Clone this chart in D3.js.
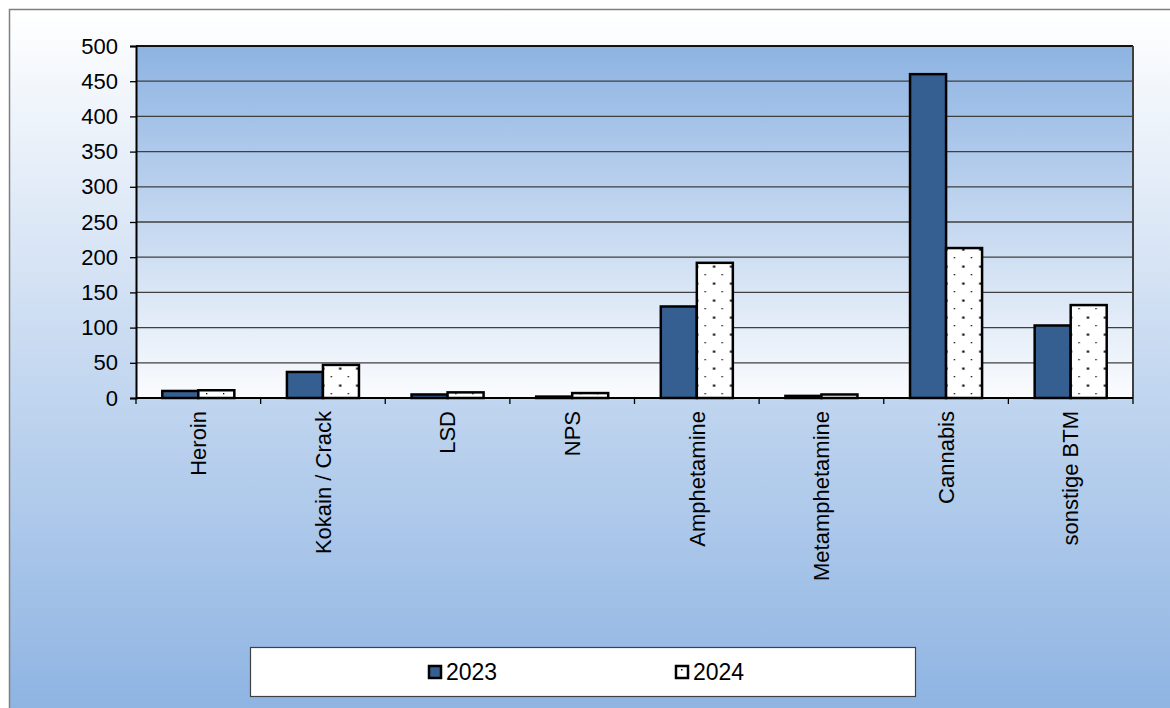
<!DOCTYPE html>
<html>
<head>
<meta charset="utf-8">
<script src="https://cdn.jsdelivr.net/npm/d3@7"></script>
<style>
  body { margin: 0; background: #fff; }
  svg { display: block; font-family: 'Liberation Sans', Arial, sans-serif; }
</style>
</head>
<body>
<div id="chart"></div>
<script>
// Data
const categories = ['Heroin', 'Kokain / Crack', 'LSD', 'NPS', 'Amphetamine', 'Metamphetamine', 'Cannabis', 'sonstige BTM']
const series = ['2023', '2024']
const values2023 = [10, 37, 5, 2, 130, 3, 460, 103]
const values2024 = [11, 47, 8, 7, 192, 5, 213, 132]
const yTicks = [0, 50, 100, 150, 200, 250, 300, 350, 400, 450, 500]

const width = 1170
const height = 708
const plot = { left: 136, right: 1133, top: 46, bottom: 398 }

const rows = categories.map((c, i) => ({ category: c, values: [values2023[i], values2024[i]] }))

const svg = d3.select('#chart')
  .append('svg')
  .attr('width', width)
  .attr('height', height)

const defs = svg.append('defs')

// Background gradient of the whole chart (white on top, blue at bottom)
const outerGrad = defs.append('linearGradient')
  .attr('id', 'outer-grad')
  .attr('x1', 0).attr('y1', 0).attr('x2', 0).attr('y2', 1)
outerGrad.append('stop').attr('offset', '0%').attr('stop-color', '#ffffff')
outerGrad.append('stop').attr('offset', '100%').attr('stop-color', '#8db3e2')

// Plot area gradient (blue on top, white at bottom)
const plotGrad = defs.append('linearGradient')
  .attr('id', 'plot-grad')
  .attr('x1', 0).attr('y1', 0).attr('x2', 0).attr('y2', 1)
plotGrad.append('stop').attr('offset', '0%').attr('stop-color', '#8db3e2')
plotGrad.append('stop').attr('offset', '100%').attr('stop-color', '#fbfcfe')

// Dotted fill for the 2024 bars
const dots = defs.append('pattern')
  .attr('id', 'dots')
  .attr('patternUnits', 'userSpaceOnUse')
  .attr('width', 17)
  .attr('height', 17)
dots.append('rect').attr('width', 17).attr('height', 17).attr('fill', '#fff')
dots.append('rect').attr('x', 2).attr('y', 2).attr('width', 1.3).attr('height', 1.3).attr('fill', '#000')
dots.append('rect').attr('x', 10.5).attr('y', 10.5).attr('width', 2.2).attr('height', 2.2).attr('fill', '#000')

const fills = ['#365f91', 'url(#dots)']

// Outer chart frame
svg.append('rect')
  .attr('x', 9.5)
  .attr('y', 9.5)
  .attr('width', width)
  .attr('height', height)
  .attr('fill', 'url(#outer-grad)')
  .attr('stroke', '#7f7f7f')
  .attr('stroke-width', 1.5)

// Scales
const x0 = d3.scaleBand()
  .domain(categories)
  .range([plot.left, plot.right])
  .padding(0)

const x1 = d3.scaleBand()
  .domain(series)
  .range([0, x0.bandwidth()])
  .paddingInner(0)
  .paddingOuter(0.73)

const y = d3.scaleLinear()
  .domain([0, 500])
  .range([plot.bottom, plot.top])

// Plot background
svg.append('rect')
  .attr('x', plot.left)
  .attr('y', plot.top)
  .attr('width', plot.right - plot.left)
  .attr('height', plot.bottom - plot.top)
  .attr('fill', 'url(#plot-grad)')

// Horizontal grid lines
svg.append('g')
  .selectAll('line')
  .data(yTicks.filter(d => d > 0 && d < 500))
  .join('line')
  .attr('x1', plot.left)
  .attr('x2', plot.right)
  .attr('y1', d => y(d))
  .attr('y2', d => y(d))
  .attr('stroke', '#3f3f3f')
  .attr('stroke-width', 1.3)

// Plot border: top black, right dark gray
svg.append('line')
  .attr('x1', plot.left).attr('x2', plot.right)
  .attr('y1', y(500)).attr('y2', y(500))
  .attr('stroke', '#111').attr('stroke-width', 2)
svg.append('line')
  .attr('x1', plot.right).attr('x2', plot.right)
  .attr('y1', plot.top).attr('y2', plot.bottom)
  .attr('stroke', '#404040').attr('stroke-width', 2)

// Bars
svg.append('g')
  .selectAll('g')
  .data(rows)
  .join('g')
  .attr('transform', d => `translate(${x0(d.category)},0)`)
  .selectAll('rect')
  .data(d => d.values.map((v, i) => ({ key: series[i], value: v, i })))
  .join('rect')
  .attr('x', d => x1(d.key))
  .attr('y', d => y(d.value))
  .attr('width', x1.bandwidth())
  .attr('height', d => y(0) - y(d.value))
  .attr('fill', d => fills[d.i])
  .attr('stroke', '#000')
  .attr('stroke-width', 2.5)

// Y axis
const yAxis = d3.axisLeft(y)
  .tickValues(yTicks)
  .tickSize(6)
  .tickPadding(12)

svg.append('g')
  .attr('transform', `translate(${plot.left},0)`)
  .call(yAxis)
  .call(g => g.select('.domain').attr('stroke', '#000').attr('stroke-width', 2))
  .call(g => g.selectAll('.tick line').attr('stroke', '#000').attr('stroke-width', 1.3))
  .call(g => g.selectAll('.tick text')
    .attr('font-size', '22px')
    .attr('font-family', "'Liberation Sans', Arial, sans-serif")
    .attr('fill', '#000'))

// X axis line and category boundary ticks
svg.append('line')
  .attr('x1', plot.left).attr('x2', plot.right)
  .attr('y1', plot.bottom).attr('y2', plot.bottom)
  .attr('stroke', '#000').attr('stroke-width', 2)

svg.append('g')
  .selectAll('line')
  .data(categories.map(c => x0(c)).concat([plot.right]))
  .join('line')
  .attr('x1', d => d).attr('x2', d => d)
  .attr('y1', plot.bottom).attr('y2', plot.bottom + 6)
  .attr('stroke', '#000')
  .attr('stroke-width', 1.3)

// Rotated category labels
svg.append('g')
  .selectAll('text')
  .data(categories)
  .join('text')
  .attr('transform', d => `translate(${x0(d) + x0.bandwidth() / 2},411) rotate(-90)`)
  .attr('text-anchor', 'end')
  .attr('dy', '0.35em')
  .attr('font-size', '22px')
  .attr('fill', '#000')
  .text(d => d)

// Legend box
svg.append('rect')
  .attr('x', 250.5)
  .attr('y', 647.5)
  .attr('width', 665)
  .attr('height', 49)
  .attr('fill', '#fff')
  .attr('stroke', '#404040')
  .attr('stroke-width', 1.2)

const legendX = [429, 676]
const items = svg.append('g')
  .selectAll('g')
  .data(series)
  .join('g')
  .attr('transform', (d, i) => `translate(${legendX[i]},666)`)

items.append('rect')
  .attr('width', 12)
  .attr('height', 12)
  .attr('fill', (d, i) => i === 0 ? fills[0] : '#fff')
  .attr('stroke', '#000')
  .attr('stroke-width', 2.5)

items.filter((d, i) => i === 1)
  .append('rect')
  .attr('x', 5).attr('y', 3)
  .attr('width', 1.5).attr('height', 1.5)
  .attr('fill', '#000')

items.append('text')
  .attr('x', 17)
  .attr('y', 14)
  .attr('font-size', '23px')
  .attr('fill', '#000')
  .text(d => d)
</script>
</body>
</html>
